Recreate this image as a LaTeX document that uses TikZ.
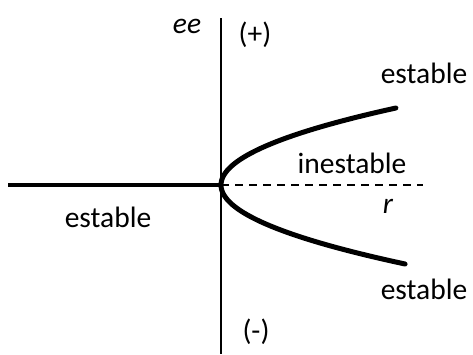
\documentclass[tikz,border=0pt]{standalone}
\usepackage{fontspec}
\setmainfont{Carlito}
\begin{document}
\begin{tikzpicture}[x=1pt,y=-1pt,
  lbl/.style={font=\fontsize{29.5}{32}\selectfont, inner sep=0pt, anchor=base},
  axis/.style={line width=2pt},
  branch/.style={line width=5pt, line cap=round},
  unst/.style={line width=2pt, dash pattern=on 8pt off 6pt}]
\useasboundingbox (0,0) rectangle (473,354);
\coordinate (top) at (221,18);
\coordinate (bot) at (221,354);
\coordinate (left) at (8,185);
\coordinate (O) at (221,185);
\coordinate (right) at (423,185);
\draw[axis] (top) -- (bot);
\draw[line width=4.5pt] (left) -- (O);
\draw[unst] (O) -- (right);
\draw[branch] plot[domain=-77:79, samples=80, smooth] ({221+0.0295*\x*\x},{185+\x});
\node[lbl, font=\fontsize{29.5}{32}\selectfont\itshape] (ee) at (187,33) {ee};
\node[lbl] (plus) at (255,43) {(+)};
\node[lbl] (e1) at (424,83) {estable};
\node[lbl] (ie) at (352,173) {inestable};
\node[lbl, font=\fontsize{29.5}{32}\selectfont\itshape] (r) at (388,213) {r};
\node[lbl] (e2) at (108,227) {estable};
\node[lbl] (e3) at (424,299) {estable};
\node[lbl] (minus) at (256,340) {(-)};
\end{tikzpicture}
\end{document}
